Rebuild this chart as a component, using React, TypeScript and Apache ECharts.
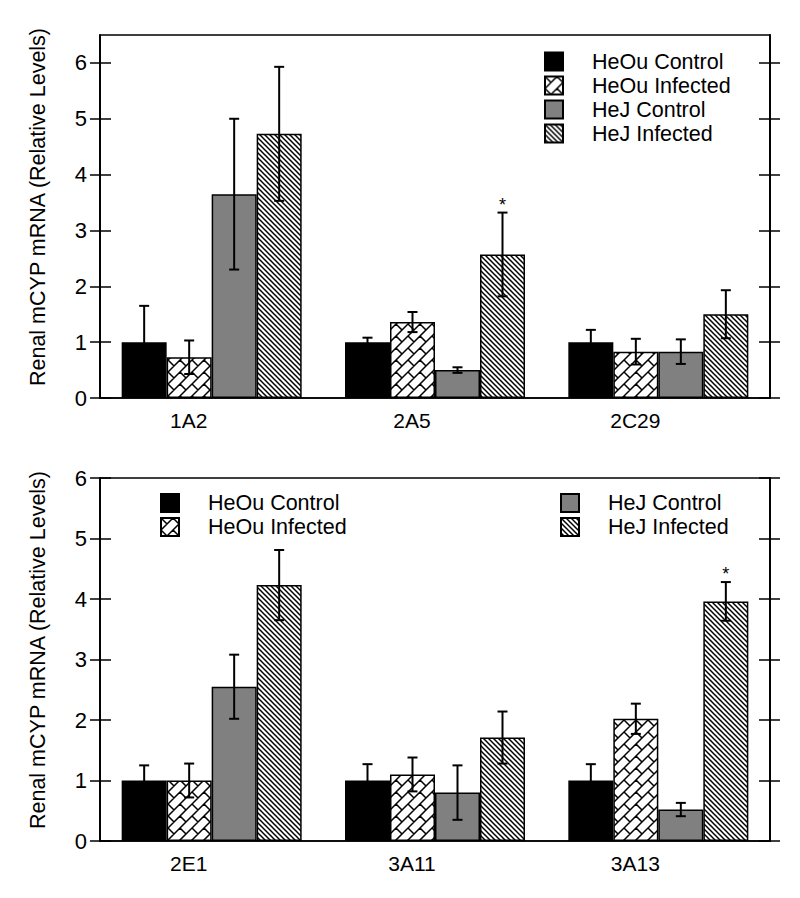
import React, { useEffect, useRef } from 'react';
import * as echarts from 'echarts';

const seriesNames = ['HeOu Control', 'HeOu Infected', 'HeJ Control', 'HeJ Infected'];
const topCategories = ['1A2', '2A5', '2C29'];
const bottomCategories = ['2E1', '3A11', '3A13'];

const topHeOuControl = [1.0, 1.0, 1.0];
const topHeOuControlErr = [0.65, 0.08, 0.22];
const topHeOuInfected = [0.73, 1.36, 0.83];
const topHeOuInfectedErr = [0.3, 0.18, 0.23];
const topHeJControl = [3.65, 0.5, 0.83];
const topHeJControlErr = [1.35, 0.05, 0.22];
const topHeJInfected = [4.73, 2.57, 1.5];
const topHeJInfectedErr = [1.2, 0.75, 0.43];

const bottomHeOuControl = [1.0, 1.0, 1.0];
const bottomHeOuControlErr = [0.25, 0.27, 0.27];
const bottomHeOuInfected = [1.0, 1.1, 2.02];
const bottomHeOuInfectedErr = [0.28, 0.28, 0.25];
const bottomHeJControl = [2.55, 0.8, 0.52];
const bottomHeJControlErr = [0.53, 0.45, 0.11];
const bottomHeJInfected = [4.23, 1.71, 3.96];
const bottomHeJInfectedErr = [0.58, 0.43, 0.32];

// [category index, series index] of bars marked with an asterisk
const topStars = [[1, 3]];
const bottomStars = [[2, 3]];

const yTicks = [0, 1, 2, 3, 4, 5, 6];
const topYMax = 6.5;
const bottomYMax = 6;
const yTitle = 'Renal mCYP mRNA (Relative Levels)';

const FONT = '"Liberation Sans", Arial, Helvetica, sans-serif';
const CAT_GAP = 0.194;

function makeHatch(): HTMLCanvasElement {
  const s = 5;
  const c = document.createElement('canvas');
  c.width = s;
  c.height = s;
  const g = c.getContext('2d')!;
  g.fillStyle = '#fff';
  g.fillRect(0, 0, s, s);
  g.strokeStyle = '#000';
  g.lineWidth = 1.5;
  for (const k of [-s, 0, s]) {
    g.beginPath();
    g.moveTo(k - 2, -2);
    g.lineTo(k + s + 2, s + 2);
    g.stroke();
  }
  return c;
}

function makeWeave(): HTMLCanvasElement {
  const s = 24;
  const row = 12;
  const c = document.createElement('canvas');
  c.width = s;
  c.height = s;
  const g = c.getContext('2d')!;
  g.fillStyle = '#fff';
  g.fillRect(0, 0, s, s);
  g.strokeStyle = '#000';
  g.lineWidth = 1.5;
  g.beginPath();
  for (let n = -1; n <= 5; n++) {
    const k = n * row;
    g.moveTo(k + 4, -4);
    g.lineTo(-4, k + 4);
  }
  for (let r = -2; r <= 5; r++) {
    const u1 = r * row;
    const u2 = u1 + row;
    const off = ((r % 2) + 2) % 2 === 0 ? 0 : 12;
    for (let m = -4; m <= 4; m++) {
      const v = off + 24 * m;
      g.moveTo((u1 + v) / 2, (u1 - v) / 2);
      g.lineTo((u2 + v) / 2, (u2 - v) / 2);
    }
  }
  g.stroke();
  return c;
}

export default function App() {
  const ref = useRef<HTMLDivElement>(null);

  useEffect(() => {
    document.body.style.margin = '0';
    if (!ref.current) return;
    const chart = echarts.init(ref.current, undefined, { renderer: 'svg' });

    const hatch = makeHatch();
    const weave = makeWeave();
    const styles = [
      { color: '#000', borderColor: '#000', borderWidth: 1.5 },
      { color: { image: weave, repeat: 'repeat', imageWidth: 24, imageHeight: 24 }, borderColor: '#000', borderWidth: 1.5 },
      { color: '#808080', borderColor: '#000', borderWidth: 1.5 },
      { color: { image: hatch, repeat: 'repeat', imageWidth: 5, imageHeight: 5 }, borderColor: '#000', borderWidth: 1.5 },
    ];

    const panels = [
      {
        cats: topCategories,
        vals: [topHeOuControl, topHeOuInfected, topHeJControl, topHeJInfected],
        errs: [topHeOuControlErr, topHeOuInfectedErr, topHeJControlErr, topHeJInfectedErr],
        stars: topStars,
        max: topYMax,
      },
      {
        cats: bottomCategories,
        vals: [bottomHeOuControl, bottomHeOuInfected, bottomHeJControl, bottomHeJInfected],
        errs: [bottomHeOuControlErr, bottomHeOuInfectedErr, bottomHeJControlErr, bottomHeJInfectedErr],
        stars: bottomStars,
        max: bottomYMax,
      },
    ];

    const lineStyle = { color: '#000', width: 1.5 };

    const xAxis: any[] = [];
    const yAxis: any[] = [];
    const series: any[] = [];

    panels.forEach((p, pi) => {
      xAxis.push({
        type: 'category',
        gridIndex: pi,
        data: p.cats,
        axisLine: { show: true, lineStyle },
        axisTick: { show: false },
        axisLabel: {
          margin: 12,
          fontSize: 21,
          fontFamily: FONT,
          color: '#000',
          padding: [0, 46, 0, 0],
        },
        splitLine: { show: false },
      });
      const base = {
        type: 'value',
        gridIndex: pi,
        min: 0,
        max: p.max,
        axisLine: { show: true, lineStyle },
        splitLine: { show: false },
      };
      yAxis.push(
        {
          ...base,
          position: 'left',
          axisTick: { show: true, inside: false, length: 10, lineStyle, customValues: yTicks },
          axisLabel: { show: true, customValues: yTicks, margin: 13, fontSize: 22, fontFamily: FONT, color: '#000' },
        },
        {
          ...base,
          position: 'left',
          axisTick: { show: true, inside: true, length: 11, lineStyle, customValues: yTicks },
          axisLabel: { show: false },
        },
        {
          ...base,
          position: 'right',
          axisTick: { show: true, inside: false, length: 10, lineStyle, customValues: yTicks },
          axisLabel: { show: false },
        },
        {
          ...base,
          position: 'right',
          axisTick: { show: true, inside: true, length: 11, lineStyle, customValues: yTicks },
          axisLabel: { show: false },
        }
      );

      seriesNames.forEach((name, si) => {
        series.push({
          type: 'bar',
          name,
          xAxisIndex: pi,
          yAxisIndex: pi * 4,
          data: p.vals[si],
          barGap: '0%',
          barCategoryGap: CAT_GAP * 100 + '%',
          itemStyle: styles[si],
          emphasis: { disabled: true },
          z: 2,
        });
      });

      const errData: any[] = [];
      p.cats.forEach((_, ci) => {
        seriesNames.forEach((__, si) => {
          const star = p.stars.some((s) => s[0] === ci && s[1] === si) ? 1 : 0;
          errData.push([ci, si, p.vals[si][ci], p.errs[si][ci], star]);
        });
      });

      series.push({
        type: 'custom',
        xAxisIndex: pi,
        yAxisIndex: pi * 4,
        data: errData,
        encode: { x: 0, y: 2 },
        silent: true,
        z: 5,
        renderItem: (params: any, api: any) => {
          const ci = api.value(0);
          const si = api.value(1);
          const v = api.value(2);
          const e = api.value(3);
          const star = api.value(4);
          const bandW = api.size([1, 0])[0];
          const groupW = bandW * (1 - CAT_GAP);
          const barW = groupW / 4;
          const center = api.coord([ci, v]);
          const x = center[0] - groupW / 2 + barW * (si + 0.5);
          const yTop = api.coord([ci, v + e])[1];
          const yBot = api.coord([ci, v - e])[1];
          const cap = 5;
          const st = { stroke: '#000', lineWidth: 2 };
          const children: any[] = [
            { type: 'line', shape: { x1: x, y1: yTop, x2: x, y2: yBot }, style: st },
            { type: 'line', shape: { x1: x - cap, y1: yTop, x2: x + cap, y2: yTop }, style: st },
            { type: 'line', shape: { x1: x - cap, y1: yBot, x2: x + cap, y2: yBot }, style: st },
          ];
          if (star) {
            children.push({
              type: 'text',
              x,
              y: yTop - 8,
              style: {
                text: '*',
                fontSize: 18,
                fontFamily: FONT,
                fill: '#000',
                align: 'center',
                verticalAlign: 'middle',
              },
            });
          }
          return { type: 'group', children };
        },
      });
    });

    const legendText = {
      fontSize: 21.5,
      fontFamily: FONT,
      color: '#000',
      padding: [0, 0, 0, 24],
    };
    const legendBase = {
      orient: 'vertical',
      itemWidth: 18,
      itemHeight: 18,
      icon: 'rect',
      padding: 0,
      selectedMode: false,
      textStyle: legendText,
    };

    chart.setOption({
      animation: false,
      backgroundColor: '#fff',
      grid: [
        { left: 100, right: 30, top: 35, height: 363, show: true, borderColor: '#000', borderWidth: 1.5, backgroundColor: 'transparent' },
        { left: 100, right: 30, top: 478, height: 363, show: true, borderColor: '#000', borderWidth: 1.5, backgroundColor: 'transparent' },
      ],
      legend: [
        { ...legendBase, itemGap: 2, data: seriesNames, left: 544, top: 50.5 },
        { ...legendBase, itemGap: 2, data: seriesNames.slice(0, 2), left: 160, top: 492 },
        { ...legendBase, itemGap: 2, data: seriesNames.slice(2, 4), left: 560, top: 492 },
      ],
      xAxis,
      yAxis,
      series,
      graphic: [
        {
          type: 'text',
          x: 38,
          y: 207,
          rotation: Math.PI / 2,
          style: { text: yTitle, fontSize: 21.5, fontFamily: FONT, fill: '#000', align: 'center', verticalAlign: 'middle', textAlign: 'center', textVerticalAlign: 'middle' },
        },
        {
          type: 'text',
          x: 38,
          y: 650,
          rotation: Math.PI / 2,
          style: { text: yTitle, fontSize: 21.5, fontFamily: FONT, fill: '#000', align: 'center', verticalAlign: 'middle', textAlign: 'center', textVerticalAlign: 'middle' },
        },
      ],
    });

    return () => chart.dispose();
  }, []);

  return <div ref={ref} style={{ width: 800, height: 898 }} />;
}
